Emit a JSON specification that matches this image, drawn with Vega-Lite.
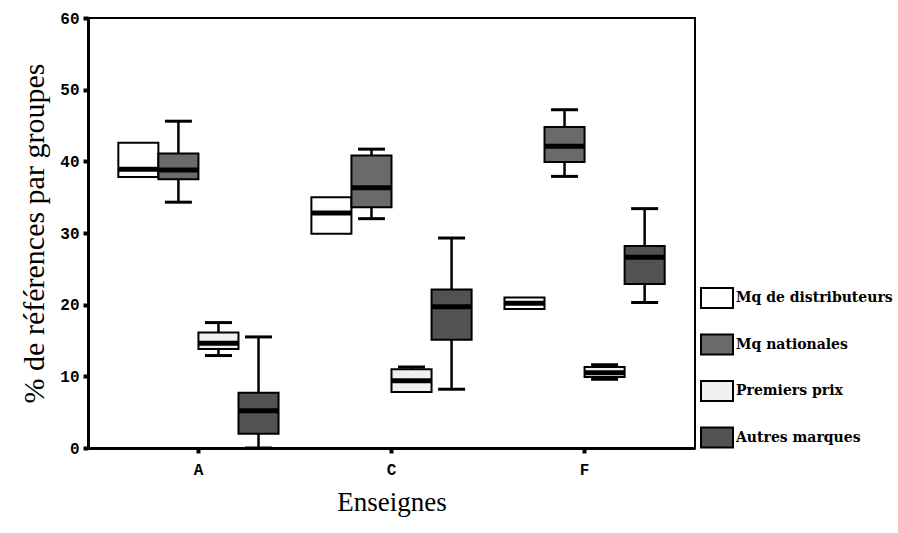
{
  "$schema": "https://vega.github.io/schema/vega-lite/v6.json",
  "autosize": {"type": "none"},
  "padding": {"left": 88, "top": 18, "right": 203, "bottom": 85},
  "width": 607,
  "height": 430,
  "background": "white",
  "config": {
    "view": {"stroke": "black", "strokeWidth": 2},
    "axis": {"grid": false, "domainColor": "black", "domainWidth": 3, "tickColor": "black", "tickWidth": 4, "tickSize": 5, "labelColor": "black", "titleColor": "black"}
  },
  "data": {
    "values": [
      {"enseigne": "A", "groupe": "Mq de distributeurs", "min": 37.8, "q1": 37.8, "median": 38.9, "q3": 42.6, "max": 42.6},
      {"enseigne": "A", "groupe": "Mq nationales", "min": 34.3, "q1": 37.5, "median": 38.8, "q3": 41.1, "max": 45.6},
      {"enseigne": "A", "groupe": "Premiers prix", "min": 12.9, "q1": 13.8, "median": 14.6, "q3": 16.1, "max": 17.5},
      {"enseigne": "A", "groupe": "Autres marques", "min": 0.0, "q1": 2.0, "median": 5.2, "q3": 7.7, "max": 15.5},
      {"enseigne": "C", "groupe": "Mq de distributeurs", "min": 29.9, "q1": 29.9, "median": 32.8, "q3": 35.0, "max": 35.0},
      {"enseigne": "C", "groupe": "Mq nationales", "min": 32.0, "q1": 33.6, "median": 36.3, "q3": 40.8, "max": 41.7},
      {"enseigne": "C", "groupe": "Premiers prix", "min": 7.8, "q1": 7.8, "median": 9.4, "q3": 11.0, "max": 11.3},
      {"enseigne": "C", "groupe": "Autres marques", "min": 8.2, "q1": 15.1, "median": 19.7, "q3": 22.1, "max": 29.3},
      {"enseigne": "F", "groupe": "Mq de distributeurs", "min": 19.4, "q1": 19.4, "median": 20.2, "q3": 21.0, "max": 21.0},
      {"enseigne": "F", "groupe": "Mq nationales", "min": 37.9, "q1": 39.9, "median": 42.1, "q3": 44.8, "max": 47.2},
      {"enseigne": "F", "groupe": "Premiers prix", "min": 9.6, "q1": 9.9, "median": 10.5, "q3": 11.3, "max": 11.6},
      {"enseigne": "F", "groupe": "Autres marques", "min": 20.3, "q1": 22.9, "median": 26.6, "q3": 28.2, "max": 33.4}
    ]
  },
  "encoding": {
    "x": {
      "field": "enseigne", "type": "nominal",
      "scale": {"paddingInner": 0, "paddingOuter": 0.072},
      "axis": {"title": "Enseignes", "labelAngle": 0, "labelFont": "Liberation Mono", "labelFontWeight": "bold", "labelFontSize": 16, "labelPadding": 8, "titleFont": "Liberation Serif", "titleFontWeight": "normal", "titleFontSize": 27, "titlePadding": 12}
    },
    "xOffset": {
      "field": "groupe", "type": "nominal",
      "sort": ["Mq de distributeurs", "Mq nationales", "Premiers prix", "Autres marques"],
      "scale": {"paddingInner": 0, "paddingOuter": 0.41}
    }
  },
  "layer": [
    {
      "mark": {"type": "rule", "color": "black", "strokeWidth": 2.5},
      "encoding": {
        "y": {"field": "min", "type": "quantitative", "scale": {"domain": [0, 60], "nice": false}, "axis": {"title": "% de références par groupes", "values": [0, 10, 20, 30, 40, 50, 60], "labelFont": "Liberation Mono", "labelFontWeight": "bold", "labelFontSize": 16, "labelPadding": 4, "titleFont": "Liberation Serif", "titleFontWeight": "normal", "titleFontSize": 30, "titlePadding": 10}},
        "y2": {"field": "max"}
      }
    },
    {
      "transform": [{"filter": "datum.max > datum.q3"}],
      "mark": {"type": "tick", "color": "black", "thickness": 3, "size": 27, "opacity": 1},
      "encoding": {"y": {"field": "max", "type": "quantitative"}}
    },
    {
      "transform": [{"filter": "datum.min < datum.q1"}],
      "mark": {"type": "tick", "color": "black", "thickness": 3, "size": 27, "opacity": 1},
      "encoding": {"y": {"field": "min", "type": "quantitative"}}
    },
    {
      "mark": {"type": "rect", "stroke": "black", "strokeWidth": 2, "opacity": 1},
      "encoding": {
        "y": {"field": "q1", "type": "quantitative"},
        "y2": {"field": "q3"},
        "fill": {
          "field": "groupe", "type": "nominal",
          "sort": ["Mq de distributeurs", "Mq nationales", "Premiers prix", "Autres marques"],
          "scale": {"domain": ["Mq de distributeurs", "Mq nationales", "Premiers prix", "Autres marques"], "range": ["#ffffff", "#6a6a6a", "#f0f0f0", "#525252"]},
          "legend": {
            "title": null, "orient": "none", "legendX": 618, "legendY": 269,
            "symbolType": "M-1.6,-1H1.6V1H-1.6Z", "symbolSize": 400, "symbolStrokeColor": "black", "symbolStrokeWidth": 2,
            "labelFont": "DejaVu Serif", "labelFontWeight": "bold", "labelFontSize": 14, "labelColor": "black", "labelOffset": 8, "labelLimit": 200,
            "rowPadding": 18.5
          }
        }
      }
    },
    {
      "mark": {"type": "tick", "color": "black", "thickness": 5, "size": 40, "opacity": 1},
      "encoding": {"y": {"field": "median", "type": "quantitative"}}
    }
  ]
}
